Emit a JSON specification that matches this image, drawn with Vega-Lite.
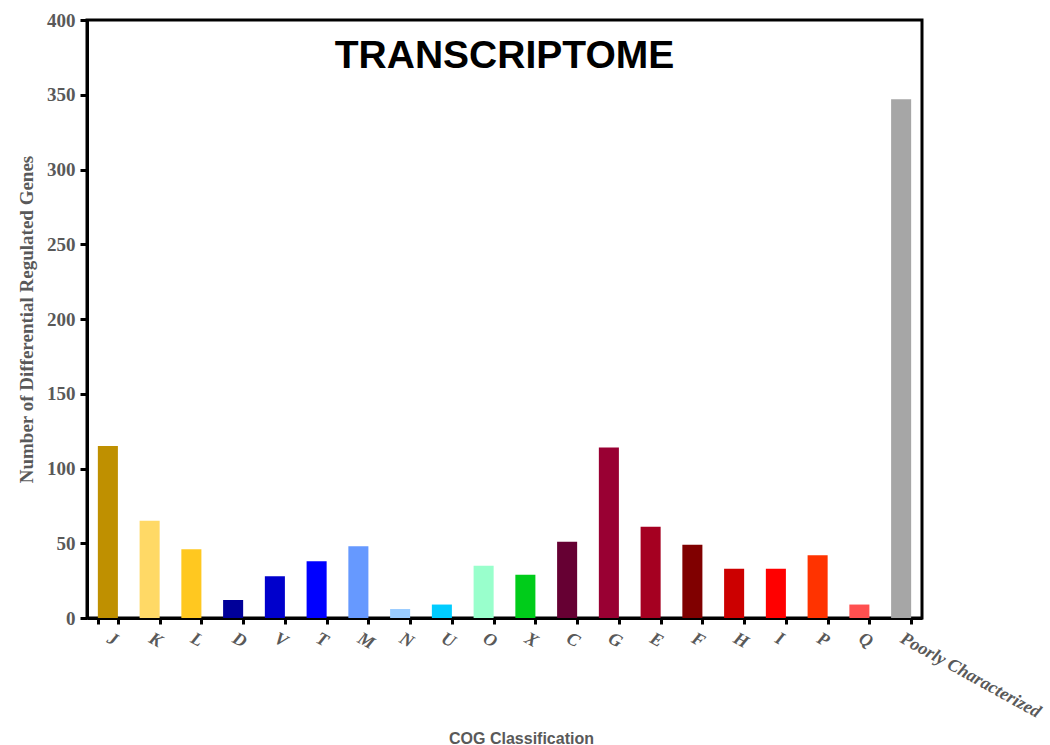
{
  "$schema": "https://vega.github.io/schema/vega-lite/v6.json",
  "autosize": "none",
  "width": 835,
  "height": 598,
  "padding": {"left": 87, "top": 20, "right": 128, "bottom": 127},
  "background": "white",
  "config": {
    "view": {"stroke": "black", "strokeWidth": 3},
    "axis": {
      "domainColor": "black",
      "domainWidth": 3,
      "tickColor": "black",
      "tickWidth": 3,
      "grid": false,
      "labelFont": "Liberation Serif",
      "labelFontWeight": "bold",
      "labelColor": "#595959",
      "labelFontSize": 19
    }
  },
  "layer": [
    {
      "data": {
        "values": [
          {"cog": "J", "count": 115, "color": "#BF9000"},
          {"cog": "K", "count": 65, "color": "#FFD966"},
          {"cog": "L", "count": 46, "color": "#FFC820"},
          {"cog": "D", "count": 12, "color": "#000099"},
          {"cog": "V", "count": 28, "color": "#0000CC"},
          {"cog": "T", "count": 38, "color": "#0000FF"},
          {"cog": "M", "count": 48, "color": "#6699FF"},
          {"cog": "N", "count": 6, "color": "#99CCFF"},
          {"cog": "U", "count": 9, "color": "#00CCFF"},
          {"cog": "O", "count": 35, "color": "#99FFCC"},
          {"cog": "X", "count": 29, "color": "#00CC1A"},
          {"cog": "C", "count": 51, "color": "#660033"},
          {"cog": "G", "count": 114, "color": "#990033"},
          {"cog": "E", "count": 61, "color": "#A50021"},
          {"cog": "F", "count": 49, "color": "#800000"},
          {"cog": "H", "count": 33, "color": "#CC0000"},
          {"cog": "I", "count": 33, "color": "#FF0000"},
          {"cog": "P", "count": 42, "color": "#FF3300"},
          {"cog": "Q", "count": 9, "color": "#FF5050"},
          {"cog": "Poorly Characterized", "count": 347, "color": "#A6A6A6"}
        ]
      },
      "mark": {"type": "bar"},
      "encoding": {
        "x": {
          "field": "cog",
          "type": "nominal",
          "sort": null,
          "scale": {"paddingInner": 0.52, "paddingOuter": 0.26},
          "axis": {
            "title": "COG Classification",
            "titleFont": "Liberation Sans",
            "titleFontSize": 16,
            "titleFontWeight": "bold",
            "titleColor": "#595959",
            "titleX": 434,
            "titleY": 125,
            "titleBaseline": "alphabetic",
            "titleAnchor": "middle",
            "tickBand": "extent",
            "tickSize": 6,
            "labelAngle": 29,
            "labelAlign": "left",
            "labelBaseline": "middle",
            "labelPadding": 13,
            "labelFontStyle": "italic",
            "labelFontSize": 18
          }
        },
        "y": {
          "field": "count",
          "type": "quantitative",
          "scale": {"domain": [0, 400], "nice": false},
          "axis": {
            "title": "Number of Differential Regulated Genes",
            "titleFont": "Liberation Serif",
            "titleFontSize": 19,
            "titleFontWeight": "bold",
            "titleColor": "#595959",
            "titlePadding": 10,
            "values": [0, 50, 100, 150, 200, 250, 300, 350, 400],
            "tickSize": 7,
            "labelPadding": 5
          }
        },
        "color": {"field": "color", "type": "nominal", "scale": null, "legend": null}
      }
    },
    {
      "data": {"values": [{"label": "TRANSCRIPTOME", "ypos": 368}]},
      "mark": {
        "type": "text",
        "font": "Liberation Sans",
        "fontSize": 39,
        "fontWeight": "bold",
        "color": "black",
        "align": "center",
        "baseline": "alphabetic",
        "x": {"expr": "width/2"}
      },
      "encoding": {
        "text": {"field": "label"},
        "y": {"field": "ypos", "type": "quantitative"}
      }
    }
  ]
}
